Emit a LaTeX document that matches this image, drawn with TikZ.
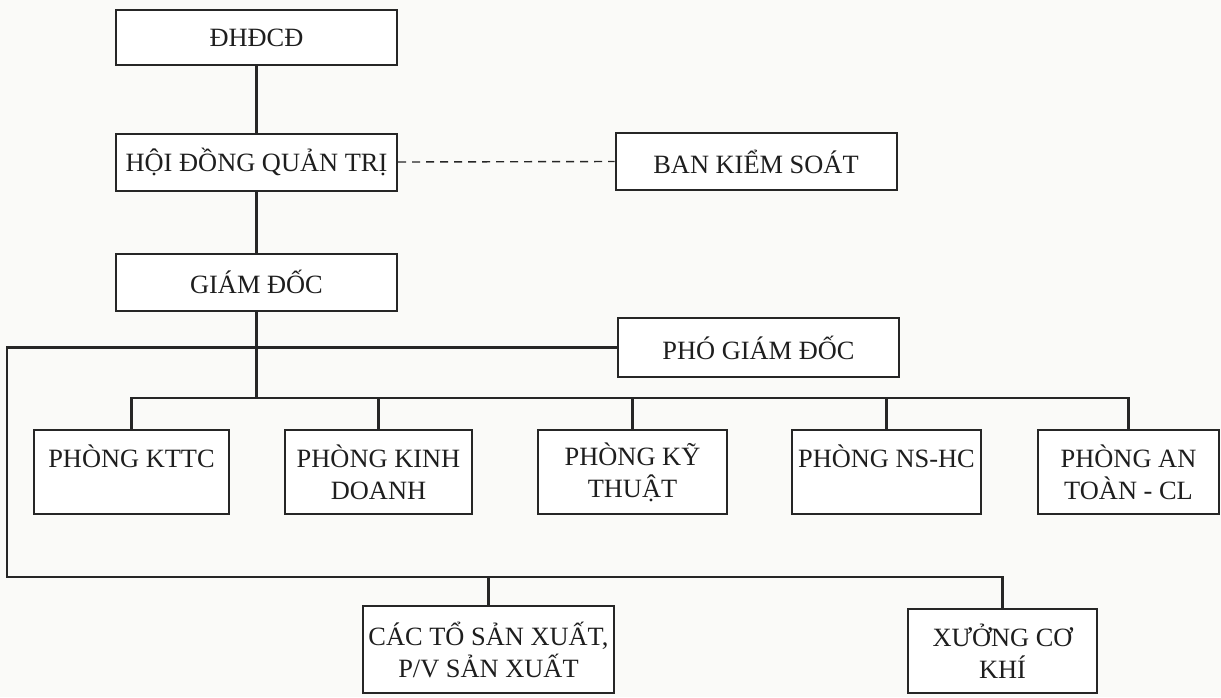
\documentclass[tikz,border=0pt]{standalone}
\usepackage{fontspec}
\setmainfont{Liberation Serif}
\usepackage{tikz}
\usetikzlibrary{positioning, calc}
\definecolor{scanPaper}{HTML}{FAFAF8}
\definecolor{scanInk}{HTML}{262626}
\definecolor{scanText}{HTML}{1E1E1E}
\tikzset{
  unitbox/.style={draw=scanInk, line width=1pt, fill=white, inner sep=2pt,
    align=center, text=scanText, font=\fontsize{13.2}{16}\selectfont},
  toprank/.style={unitbox, minimum width=140.5pt, minimum height=28.5pt},
  deptbox/.style={unitbox, minimum height=42pt},
  link/.style={draw=scanInk, line width=1.3pt}
}

\begin{document}
\begin{tikzpicture}[x=0.5pt, y=-0.5pt]
  \fill[scanPaper] (0,0) rectangle (1221,697);
  \useasboundingbox (0,0) rectangle (1221,697);

  % top of the chart
  \node[toprank, minimum height=27.5pt] (dhdcd) at (256.5,37.5) {ĐHĐCĐ};
  \node[toprank] (hdqt) at (256.5,162) {HỘI ĐỒNG QUẢN TRỊ};
  \node[toprank] (bks) at (756,161.5) {BAN KIỂM SOÁT};
  \node[toprank] (gd) at (256.5,282) {GIÁM ĐỐC};
  \node[toprank, minimum height=29.5pt] (pgd) at (758.5,347.5) {PHÓ GIÁM ĐỐC};

  % phong ban
  \node[deptbox, minimum width=97.5pt] (kttc) at (131.5,472) {PHÒNG KTTC\\~};
  \node[deptbox, minimum width=93.5pt] (kinhdoanh) at (378.5,472) {PHÒNG KINH\\DOANH};
  \node[deptbox, minimum width=94.5pt] (kythuat) at (632.5,472) {PHÒNG KỸ\\THUẬT};
  \node[deptbox, minimum width=94.5pt] (nshc) at (886.5,472) {PHÒNG NS-HC\\~};
  \node[deptbox, minimum width=90.5pt] (antoan) at (1128.5,472) {PHÒNG AN\\TOÀN - CL};

  % san xuat
  \node[deptbox, minimum width=125.5pt, minimum height=43.5pt] (cacto) at (488.5,649.5)
    {CÁC TỔ SẢN XUẤT,\\P/V SẢN XUẤT};
  \node[deptbox, minimum width=94.5pt] (xuong) at (1002.5,651) {XƯỞNG CƠ\\KHÍ};

  \coordinate (deptBus) at (256.5,398);
  \coordinate (loopTop) at (7,348);
  \coordinate (loopBot) at (7,577);

  \draw[link] (dhdcd) -- (hdqt);
  \draw[link] (hdqt) -- (gd);
  \draw[scanInk, line width=0.7pt, dash pattern=on 4pt off 3pt] (hdqt.east) -- (bks.west);
  \draw[link] (gd.south) -- (deptBus);
  \draw[link] (kttc.north) |- (deptBus) -| (antoan.north);
  \foreach \d in {kinhdoanh, kythuat, nshc}
    \draw[link] (\d.north) -- (\d.north |- deptBus);
  \draw[link] (pgd.west) -- (pgd.west -| loopTop) -- (loopBot) -| (xuong.north);
  \draw[link] (cacto.north) -- (cacto.north |- loopBot);
\end{tikzpicture}
\end{document}
